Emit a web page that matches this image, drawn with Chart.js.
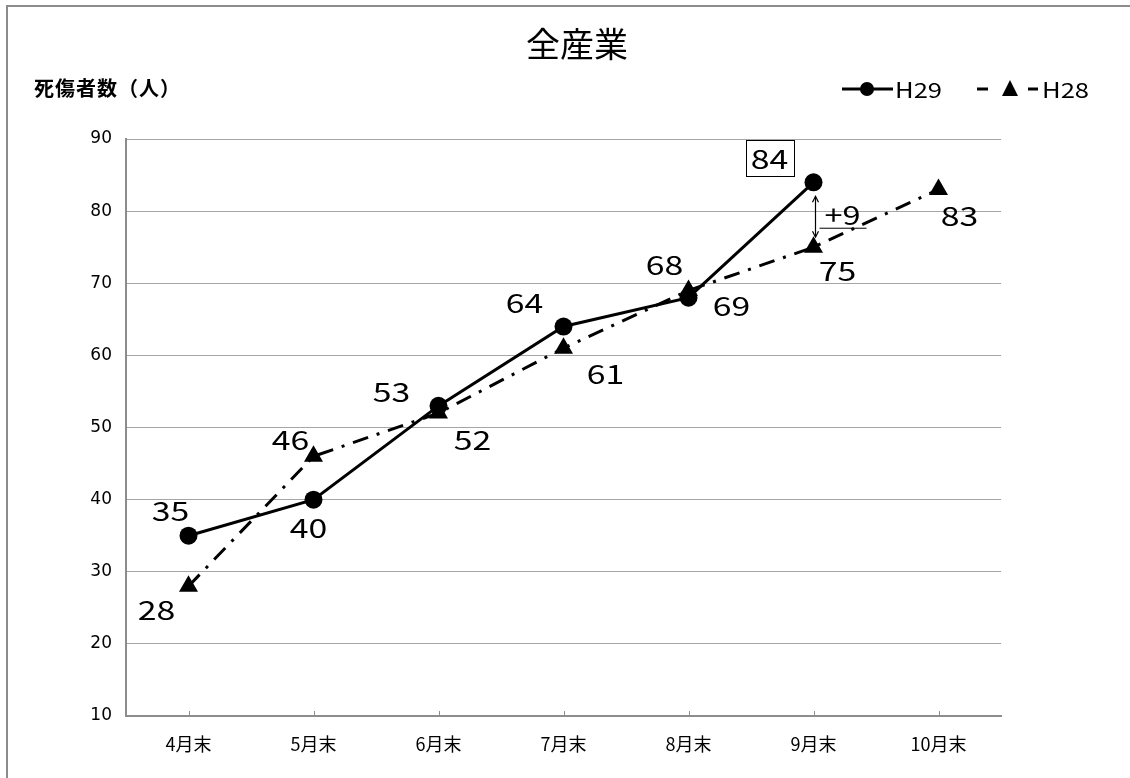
<!DOCTYPE html>
<html>
<head>
<meta charset="utf-8">
<script src="https://cdn.jsdelivr.net/npm/chart.js@4.4.1/dist/chart.umd.min.js"></script>
<style>
html,body{margin:0;padding:0;background:#fff;}
#wrap{position:relative;width:1130px;height:778px;}
</style>
</head>
<body>
<div id="wrap"><canvas id="c" width="1130" height="778"></canvas></div>
<script>
const categories = ['4月末','5月末','6月末','7月末','8月末','9月末','10月末'];
const h29 = [35, 40, 53, 64, 68, 84, null];
const h28 = [28, 46, 52, 61, 69, 75, 83];
const yTicks = [10, 20, 30, 40, 50, 60, 70, 80, 90];
const seriesNames = ['H29', 'H28'];
const titleText = '全産業';
const yAxisTitle = '死傷者数（人）';
const diffText = '+9';

// label offsets (style only)
const h29LabelOffsets = [[-18,-26],[-5,27],[-47,-15],[-39,-24],[-24,-34],[-44,-24],[0,0]];
const h28LabelOffsets = [[-32,23],[-23,-17],[34,26],[42,25],[43,15],[24,23],[21,26]];

const JP = "'Noto Sans CJK JP', 'Noto Sans', sans-serif";
const WIDE = 1.3;

function wideText(ctx, text, x, y, sx) {
  ctx.save();
  ctx.translate(x, y);
  ctx.scale(sx, 1);
  ctx.fillText(text, 0, 0);
  ctx.restore();
}

const decor = {
  id: 'decor',
  afterDraw(chart) {
    const ctx = chart.ctx;
    const xs = chart.scales.x, ys = chart.scales.y;
    ctx.save();
    // frame
    ctx.strokeStyle = '#8c8c8c';
    ctx.lineWidth = 2;
    ctx.beginPath();
    ctx.moveTo(7, 778); ctx.lineTo(7, 6); ctx.lineTo(1130, 6);
    ctx.stroke();
    // title
    ctx.fillStyle = '#000';
    ctx.textAlign = 'center'; ctx.textBaseline = 'middle';
    ctx.font = '34px ' + JP;
    ctx.fillText(titleText, 577, 44);
    // y-axis title
    ctx.textAlign = 'left';
    ctx.font = 'bold 20px ' + JP;
    ctx.letterSpacing = '1px';
    ctx.fillText(yAxisTitle, 34, 88);
    ctx.letterSpacing = '0px';
    // legend
    ctx.strokeStyle = '#000'; ctx.fillStyle = '#000'; ctx.lineWidth = 3;
    ctx.beginPath(); ctx.moveTo(842, 89); ctx.lineTo(893, 89); ctx.stroke();
    ctx.beginPath(); ctx.arc(867, 89, 7, 0, Math.PI*2); ctx.fill();
    ctx.font = '21px ' + JP;
    wideText(ctx, seriesNames[0], 895, 90, 1.22);
    ctx.beginPath(); ctx.moveTo(977, 89); ctx.lineTo(988, 89); ctx.stroke();
    ctx.beginPath(); ctx.moveTo(1028, 89); ctx.lineTo(1038, 89); ctx.stroke();
    ctx.beginPath(); ctx.moveTo(1010, 80); ctx.lineTo(1018, 96); ctx.lineTo(1002, 96); ctx.closePath(); ctx.fill();
    wideText(ctx, seriesNames[1], 1042, 90, 1.22);
    // inner x ticks
    ctx.strokeStyle = '#8c8c8c'; ctx.lineWidth = 1;
    for (let i = 0; i < categories.length; i++) {
      const px = Math.round(xs.getPixelForValue(i)) + 0.5;
      ctx.beginPath(); ctx.moveTo(px, ys.bottom); ctx.lineTo(px, ys.bottom - 5); ctx.stroke();
    }
    // data labels
    ctx.fillStyle = '#000';
    ctx.textAlign = 'center'; ctx.textBaseline = 'middle';
    ctx.font = '26px ' + JP;
    const m29 = chart.getDatasetMeta(0), m28 = chart.getDatasetMeta(1);
    h29.forEach((v, i) => {
      if (v == null) return;
      const p = m29.data[i];
      const lx = p.x + h29LabelOffsets[i][0], ly = p.y + h29LabelOffsets[i][1];
      wideText(ctx, String(v), lx, ly + 1, WIDE);
      if (i === 5) {
        const w = ctx.measureText(String(v)).width * WIDE;
        ctx.strokeStyle = '#000'; ctx.lineWidth = 1;
        ctx.strokeRect(Math.round(lx - w/2 - 5) + 0.5, Math.round(ly - 18) + 0.5, Math.round(w + 10), 36);
      }
    });
    h28.forEach((v, i) => {
      if (v == null) return;
      const p = m28.data[i];
      wideText(ctx, String(v), p.x + h28LabelOffsets[i][0], p.y + h28LabelOffsets[i][1] + 1, WIDE);
    });
    // difference annotation at 9月末
    const i9 = 5;
    const ax = m29.data[i9].x + 2;
    const yTop = m29.data[i9].y + 14, yBot = m28.data[i9].y - 10;
    ctx.strokeStyle = '#000'; ctx.lineWidth = 1.2;
    ctx.beginPath(); ctx.moveTo(ax, yTop); ctx.lineTo(ax, yBot); ctx.stroke();
    ctx.beginPath(); ctx.moveTo(ax - 3, yTop + 6); ctx.lineTo(ax, yTop); ctx.lineTo(ax + 3, yTop + 6); ctx.stroke();
    ctx.beginPath(); ctx.moveTo(ax - 3, yBot - 6); ctx.lineTo(ax, yBot); ctx.lineTo(ax + 3, yBot - 6); ctx.stroke();
    ctx.font = '26px ' + JP;
    wideText(ctx, diffText, ax + 27, (yTop + yBot) / 2 - 2, 1.25);
    ctx.lineWidth = 1;
    ctx.beginPath(); ctx.moveTo(ax + 4, (yTop + yBot)/2 + 11.5); ctx.lineTo(ax + 51, (yTop + yBot)/2 + 11.5); ctx.stroke();
    ctx.restore();
  }
};

new Chart(document.getElementById('c'), {
  type: 'line',
  data: {
    labels: categories,
    datasets: [
      {
        label: seriesNames[0], data: h29,
        borderColor: '#000', backgroundColor: '#000', borderWidth: 3,
        pointStyle: 'circle', pointRadius: 9, pointBackgroundColor: '#000', pointBorderWidth: 0,
        tension: 0, spanGaps: false
      },
      {
        label: seriesNames[1], data: h28,
        borderColor: '#000', backgroundColor: '#000', borderWidth: 3,
        borderDash: [16, 9, 3, 9],
        pointStyle: 'triangle', pointRadius: 11, pointBackgroundColor: '#000', pointBorderWidth: 0,
        tension: 0
      }
    ]
  },
  options: {
    responsive: false,
    animation: false,
    devicePixelRatio: 1,
    layout: { padding: { left: 66, right: 129, top: 139, bottom: 22 } },
    plugins: { legend: { display: false }, title: { display: false }, tooltip: { enabled: false } },
    scales: {
      x: {
        offset: true,
        grid: { display: false, drawOnChartArea: false },
        border: { display: true, color: '#8c8c8c', width: 2 },
        ticks: { color: '#000', font: { family: JP, size: 18 }, padding: 9 },
        afterFit(s) { s.height = 40; }
      },
      y: {
        min: 10, max: 90,
        afterBuildTicks(s) { s.ticks = yTicks.map(v => ({ value: v })); },
        grid: { color: '#a6a6a6', lineWidth: 1, drawTicks: false },
        border: { display: true, color: '#8c8c8c', width: 2 },
        ticks: { color: '#000', font: { family: "'DejaVu Sans', sans-serif", size: 17 }, padding: 14 },
        afterFit(s) { s.width = 60; }
      }
    }
  },
  plugins: [decor]
});
</script>
</body>
</html>
